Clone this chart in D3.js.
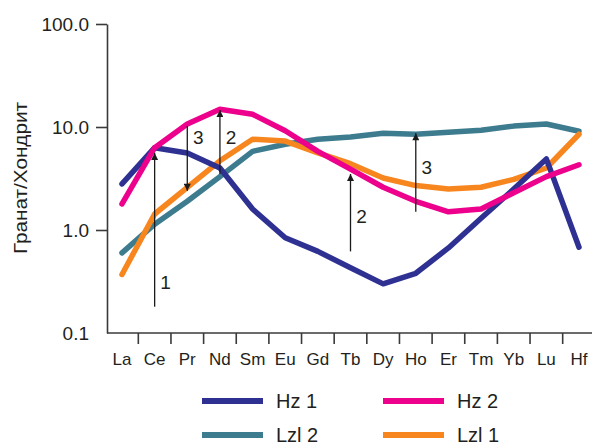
<!DOCTYPE html>
<html>
<head>
<meta charset="utf-8">
<script src="https://cdn.jsdelivr.net/npm/d3@7"></script>
<style>
  html, body { margin: 0; padding: 0; background: #fff; }
  svg { display: block; font-family: "Liberation Sans", Arial, Helvetica, sans-serif; }
</style>
</head>
<body>
<svg id="chart" width="592" height="446"></svg>
<script>
// ---- data ----
const elements = ["La","Ce","Pr","Nd","Sm","Eu","Gd","Tb","Dy","Ho","Er","Tm","Yb","Lu","Hf"];
const yTickValues = [0.1, 1, 10, 100];
const yTitle = "Гранат/Хондрит";

const seriesNames = ["Lzl 2", "Lzl 1", "Hz 1", "Hz 2"];
const hz1  = [2.8, 6.3, 5.6, 4.0, 1.6, 0.84, 0.62, 0.43, 0.30, 0.38, 0.67, 1.3, 2.5, 4.9, 0.68];
const hz2  = [1.79, 6.3, 10.7, 14.9, 13.3, 9.2, 5.8, 3.9, 2.6, 1.9, 1.5, 1.6, 2.3, 3.3, 4.3];
const lzl2 = [0.60, 1.14, 1.9, 3.3, 5.8, 6.8, 7.6, 8.0, 8.7, 8.5, 8.9, 9.3, 10.2, 10.7, 9.1];
const lzl1 = [0.37, 1.43, 2.6, 4.7, 7.6, 7.3, 5.6, 4.4, 3.2, 2.7, 2.5, 2.6, 3.1, 4.0, 8.5];

// annotation arrows
const arrowAt     = ["Ce", "Pr", "Nd", "Tb", "Ho"];
const arrowFrom   = [0.18, 10.2, 3.5, 0.62, 1.5];
const arrowTo     = [5.6, 2.4, 14.6, 3.5, 8.7];
const arrowLabels = ["1", "3", "2", "2", "3"];
const arrowLabelAt = [0.27, 6.8, 6.8, 1.17, 3.5];

// legend
const legendOrder = ["Hz 1", "Hz 2", "Lzl 2", "Lzl 1"];

// ---- styles ----
const colors = { "Hz 1": "#2e3192", "Hz 2": "#ec008c", "Lzl 2": "#3d7b8e", "Lzl 1": "#f7861f" };
const textColor = "#231f20";
const axisColor = "#3a3a3a";

const valuesByName = { "Hz 1": hz1, "Hz 2": hz2, "Lzl 2": lzl2, "Lzl 1": lzl1 };

const svg = d3.select("#chart");

const x = d3.scalePoint().domain(elements).range([122, 579]);
const y = d3.scaleLog().domain([0.1, 100]).range([333, 24]);

const axisX0 = 107;

// y axis
const yAxis = d3.axisLeft(y)
  .tickValues(yTickValues)
  .tickFormat(d3.format(".1f"))
  .tickSize(11)
  .tickSizeOuter(0)
  .tickPadding(7);

const gy = svg.append("g").attr("transform", `translate(${axisX0},0)`).call(yAxis);
gy.select(".domain").attr("stroke", axisColor).attr("stroke-width", 1.6);
gy.selectAll(".tick line").attr("stroke", axisColor).attr("stroke-width", 1.6)
  .filter(d => d === 0.1).remove();
gy.selectAll(".tick text")
  .attr("fill", textColor)
  .style("font-size", "19px")
  .attr("dy", "0.36em");

// x axis line
svg.append("line")
  .attr("x1", axisX0).attr("x2", 592)
  .attr("y1", y(0.1)).attr("y2", y(0.1))
  .attr("stroke", axisColor).attr("stroke-width", 1.6);

// x ticks between categories
const mids = elements.slice(0, -1).map((e, i) => (x(e) + x(elements[i + 1])) / 2);
svg.append("g").selectAll("line").data(mids).join("line")
  .attr("x1", d => d).attr("x2", d => d)
  .attr("y1", y(0.1)).attr("y2", y(0.1) + 11)
  .attr("stroke", axisColor).attr("stroke-width", 1.6);

// x labels
svg.append("g").selectAll("text").data(elements).join("text")
  .attr("x", d => x(d))
  .attr("y", 365)
  .attr("text-anchor", "middle")
  .attr("fill", textColor)
  .style("font-size", "17px")
  .text(d => d);

// y title
svg.append("text")
  .attr("transform", "translate(27,178) rotate(-90)")
  .attr("text-anchor", "middle")
  .attr("fill", textColor)
  .style("font-size", "19px")
  .attr("textLength", 152)
  .attr("lengthAdjust", "spacingAndGlyphs")
  .text(yTitle);

// lines
const line = d3.line()
  .x((d, i) => x(elements[i]))
  .y(d => y(d));

seriesNames.forEach(name => {
  svg.append("path")
    .datum(valuesByName[name])
    .attr("d", line)
    .attr("fill", "none")
    .attr("stroke", colors[name])
    .attr("stroke-width", 5.5)
    .attr("stroke-linejoin", "round")
    .attr("stroke-linecap", "round");
});

// arrows
const defs = svg.append("defs");
defs.append("marker")
  .attr("id", "ah")
  .attr("viewBox", "0 0 10 10")
  .attr("refX", 10).attr("refY", 5)
  .attr("markerUnits", "userSpaceOnUse")
  .attr("markerWidth", 10).attr("markerHeight", 7)
  .attr("orient", "auto")
  .append("path")
  .attr("d", "M0,0 L10,5 L0,10 z")
  .attr("fill", "#1a1a1a");

const ga = svg.append("g");
arrowAt.forEach((el, i) => {
  ga.append("line")
    .attr("x1", x(el)).attr("x2", x(el))
    .attr("y1", y(arrowFrom[i])).attr("y2", y(arrowTo[i]))
    .attr("stroke", "#1a1a1a")
    .attr("stroke-width", 1.3)
    .attr("marker-end", "url(#ah)");
  ga.append("text")
    .attr("x", x(el) + 11)
    .attr("y", y(arrowLabelAt[i]))
    .attr("text-anchor", "middle")
    .attr("fill", textColor)
    .style("font-size", "19px")
    .text(arrowLabels[i]);
});

// legend
const legendCols = [202, 383];
const legendRows = [401, 435];
const gl = svg.append("g");
legendOrder.forEach((name, i) => {
  const cx = legendCols[i % 2];
  const cy = legendRows[Math.floor(i / 2)];
  gl.append("line")
    .attr("x1", cx).attr("x2", cx + 61)
    .attr("y1", cy).attr("y2", cy)
    .attr("stroke", colors[name])
    .attr("stroke-width", 6);
  gl.append("text")
    .attr("x", cx + 74)
    .attr("y", cy + 7)
    .attr("fill", textColor)
    .style("font-size", "20px")
    .text(name);
});
</script>
</body>
</html>
